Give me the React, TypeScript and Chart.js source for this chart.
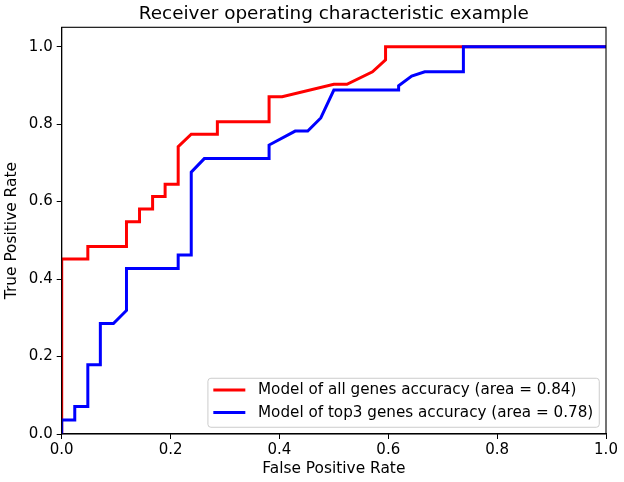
import React, { useEffect, useRef } from 'react';
import { Chart, registerables } from 'chart.js';
import type { Plugin } from 'chart.js';

Chart.register(...registerables);

const TITLE = 'Receiver operating characteristic example';
const X_LABEL = 'False Positive Rate';
const Y_LABEL = 'True Positive Rate';
const TICKS = [0, 0.2, 0.4, 0.6, 0.8, 1.0];

// ROC curve points
const allGenesFpr = [0, 0, 0.048, 0.048, 0.119, 0.119, 0.143, 0.143, 0.167, 0.167, 0.19, 0.19, 0.214, 0.214, 0.238, 0.286, 0.286, 0.381, 0.381, 0.405, 0.5, 0.524, 0.571, 0.595, 0.595, 1.0];
const allGenesTpr = [0, 0.452, 0.452, 0.484, 0.484, 0.548, 0.548, 0.581, 0.581, 0.613, 0.613, 0.645, 0.645, 0.742, 0.774, 0.774, 0.806, 0.806, 0.871, 0.871, 0.903, 0.903, 0.935, 0.966, 1.0, 1.0];

const top3Fpr = [0, 0, 0.024, 0.024, 0.048, 0.048, 0.071, 0.071, 0.095, 0.119, 0.119, 0.214, 0.214, 0.238, 0.238, 0.262, 0.381, 0.381, 0.429, 0.452, 0.476, 0.5, 0.619, 0.619, 0.643, 0.667, 0.738, 0.738, 1.0];
const top3Tpr = [0, 0.036, 0.036, 0.071, 0.071, 0.179, 0.179, 0.285, 0.285, 0.319, 0.427, 0.427, 0.462, 0.462, 0.676, 0.711, 0.711, 0.746, 0.782, 0.782, 0.816, 0.888, 0.888, 0.899, 0.924, 0.935, 0.935, 1.0, 1.0];

const allGenesLabel = 'Model of all genes accuracy (area = 0.84)';
const top3Label = 'Model of top3 genes accuracy (area = 0.78)';

const FONT = '"DejaVu Sans", sans-serif';

const toPoints = (xs: number[], ys: number[]) => xs.map((x, i) => ({ x, y: ys[i] }));

// full frame + title + legend inside the axes, matplotlib style
const framePlugin: Plugin = {
    id: 'frame',
    afterDraw(chart) {
        const { ctx, chartArea: ca } = chart;
        ctx.save();
        ctx.strokeStyle = '#000';
        ctx.lineWidth = 1.1;
        ctx.strokeRect(ca.left, ca.top, ca.right - ca.left, ca.bottom - ca.top);

        ctx.fillStyle = '#000';
        ctx.font = `18.4px ${FONT}`;
        ctx.textAlign = 'center';
        ctx.textBaseline = 'middle';
        ctx.fillText(TITLE, (ca.left + ca.right) / 2, 14);

        // legend
        ctx.font = `15.2px ${FONT}`;
        const sets = chart.data.datasets;
        const textW = Math.max(...sets.map(d => ctx.measureText(String(d.label)).width));
        const boxW = 5.4 + 32 + 12.7 + textW + 6;
        const boxH = 49;
        const right = ca.right - 6.75;
        const bottom = ca.bottom - 6.75;
        const left = right - boxW;
        const top = bottom - boxH;
        ctx.beginPath();
        ctx.roundRect(left, top, boxW, boxH, 3);
        ctx.fillStyle = 'rgba(255,255,255,0.8)';
        ctx.fill();
        ctx.strokeStyle = '#cccccc';
        ctx.lineWidth = 1;
        ctx.stroke();
        sets.forEach((d, i) => {
            const y = top + 11.8 + i * 22.4;
            ctx.beginPath();
            ctx.moveTo(left + 5.4, y);
            ctx.lineTo(left + 5.4 + 32, y);
            ctx.strokeStyle = String(d.borderColor);
            ctx.lineWidth = 3;
            ctx.stroke();
            ctx.fillStyle = '#000';
            ctx.textAlign = 'left';
            ctx.textBaseline = 'middle';
            ctx.fillText(String(d.label), left + 5.4 + 32 + 12.7, y + 0.5);
        });
        ctx.restore();
    },
};

export default function App() {
    const canvasRef = useRef<HTMLCanvasElement>(null);

    useEffect(() => {
        document.body.style.margin = '0';
        const canvas = canvasRef.current;
        if (!canvas) return;

        const tickFont = { family: FONT, size: 15 };

        const chart = new Chart(canvas, {
            type: 'scatter',
            data: {
                datasets: [
                    {
                        label: allGenesLabel,
                        data: toPoints(allGenesFpr, allGenesTpr),
                        borderColor: '#ff0000',
                        backgroundColor: '#ff0000',
                        borderWidth: 3,
                        showLine: true,
                        pointRadius: 0,
                        order: 1,
                    },
                    {
                        label: top3Label,
                        data: toPoints(top3Fpr, top3Tpr),
                        borderColor: '#0000ff',
                        backgroundColor: '#0000ff',
                        borderWidth: 3,
                        showLine: true,
                        pointRadius: 0,
                        order: 0,
                    },
                ],
            },
            options: {
                responsive: false,
                animation: false,
                layout: { padding: { top: 27.3, right: 18, left: 0, bottom: 0 } },
                plugins: {
                    legend: { display: false },
                    tooltip: { enabled: false },
                    title: { display: false },
                },
                scales: {
                    x: {
                        type: 'linear',
                        min: 0,
                        max: 1,
                        afterBuildTicks: (s: any) => { s.ticks = TICKS.map(v => ({ value: v })); },
                        afterFit: (s: any) => { s.height = 48; },
                        grid: { drawOnChartArea: false, drawTicks: true, tickLength: 5, tickColor: '#000' },
                        border: { display: true, color: '#000', width: 1.1 },
                        ticks: {
                            color: '#000',
                            font: tickFont,
                            padding: 2,
                            maxRotation: 0,
                            callback: (v: number | string) => Number(v).toFixed(1),
                        },
                        title: {
                            display: true,
                            text: X_LABEL,
                            color: '#000',
                            font: { family: FONT, size: 15.4 },
                            padding: { top: 0, bottom: 4 },
                        },
                    },
                    y: {
                        type: 'linear',
                        min: 0,
                        max: 1.05,
                        afterBuildTicks: (s: any) => { s.ticks = TICKS.map(v => ({ value: v })); },
                        afterFit: (s: any) => { s.width = 61.7; },
                        grid: { drawOnChartArea: false, drawTicks: true, tickLength: 5, tickColor: '#000' },
                        border: { display: true, color: '#000', width: 1.1 },
                        ticks: {
                            color: '#000',
                            font: tickFont,
                            padding: 4,
                            callback: (v: number | string) => Number(v).toFixed(1),
                        },
                        title: {
                            display: true,
                            text: Y_LABEL,
                            color: '#000',
                            font: { family: FONT, size: 15.4 },
                            padding: { top: 3, bottom: 0 },
                        },
                    },
                },
            },
            plugins: [framePlugin],
        });

        return () => chart.destroy();
    }, []);

    return (
        <div style={{ width: 624, height: 482, background: '#fff' }}>
            <canvas ref={canvasRef} width={624} height={482} style={{ width: 624, height: 482 }} />
        </div>
    );
}
